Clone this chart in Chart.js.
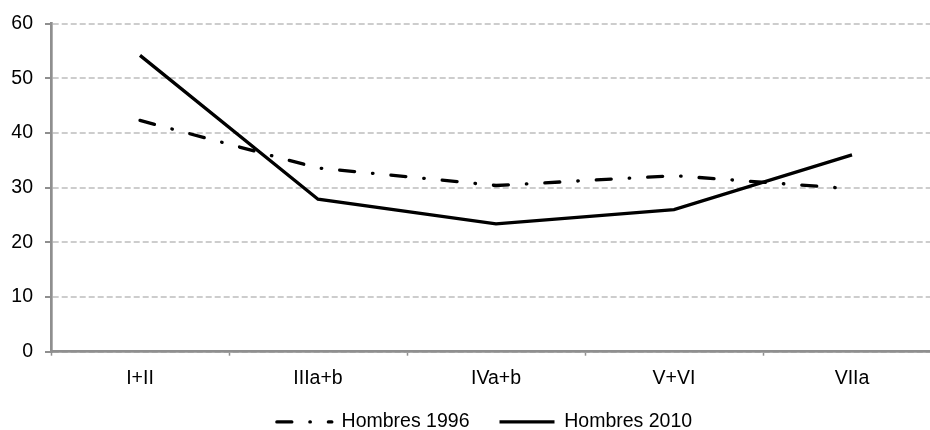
<!DOCTYPE html>
<html>
<head>
<meta charset="utf-8">
<script src="https://cdn.jsdelivr.net/npm/chart.js@4"></script>
<style>
  html, body { margin: 0; padding: 0; overflow: hidden; background: #fff; }
  canvas { display: block; }
</style>
</head>
<body>
<canvas id="c" width="941" height="430" style="width:941px;height:430px"></canvas>
<script>
const categories = ["I+II", "IIIa+b", "IVa+b", "V+VI", "VIIa"];
const hombres1996 = [42.3, 33.6, 30.4, 32.2, 29.8];
const hombres2010 = [54.2, 27.9, 23.4, 26.0, 36.0];
const yTicks = [0, 10, 20, 30, 40, 50, 60];

const FONT = "'Liberation Sans', Arial, Helvetica, sans-serif";
const AXIS = '#8f8f8f';

const shiftLegend = {
  id: 'shiftLegend',
  afterLayout(chart) {
    const lg = chart.legend;
    if (lg) {
      lg.left += 14; lg.right += 14;
      lg.top -= 11.5; lg.bottom -= 11.5;
    }
  }
};

new Chart(document.getElementById('c'), {
  type: 'line',
  data: {
    labels: categories,
    datasets: [
      {
        label: 'Hombres 1996',
        data: hombres1996,
        borderColor: '#000',
        backgroundColor: '#000',
        borderWidth: 3.3,
        borderDash: [15, 18, 0.5, 18],
        borderCapStyle: 'round',
        pointRadius: 0,
        tension: 0,
        fill: false
      },
      {
        label: 'Hombres 2010',
        data: hombres2010,
        borderColor: '#000',
        backgroundColor: '#000',
        borderWidth: 3.3,
        borderCapStyle: 'butt',
        pointRadius: 0,
        tension: 0,
        fill: false
      }
    ]
  },
  plugins: [shiftLegend],
  options: {
    responsive: false,
    animation: false,
    devicePixelRatio: 1,
    layout: { padding: { top: 20, left: 0, right: 0, bottom: -23.2 } },
    plugins: {
      tooltip: { enabled: false },
      legend: {
        position: 'bottom',
        labels: {
          usePointStyle: true,
          pointStyle: 'line',
          pointStyleWidth: 55,
          padding: 30,
          color: '#000',
          font: { family: FONT, size: 19.5 },
          generateLabels: (chart) => chart.data.datasets.map((ds, i) => ({
            text: ds.label,
            datasetIndex: i,
            fillStyle: ds.borderColor,
            strokeStyle: ds.borderColor,
            fontColor: '#000',
            lineWidth: ds.borderWidth,
            lineDash: ds.borderDash || [],
            lineCap: ds.borderCapStyle,
            pointStyle: 'line',
            hidden: false
          }))
        }
      }
    },
    scales: {
      x: {
        offset: true,
        afterFit: (s) => { s.height = 42; },
        grid: {
          display: true,
          drawOnChartArea: false,
          offset: true,
          tickLength: 4,
          tickColor: AXIS,
          tickWidth: 1.5
        },
        border: { color: AXIS, width: 2.7 },
        ticks: { color: '#000', padding: 11, font: { family: FONT, size: 19.5 }, maxRotation: 0 }
      },
      y: {
        min: 0,
        max: 60,
        afterFit: (s) => { s.width = 51; },
        afterBuildTicks: (s) => { s.ticks = yTicks.map(v => ({ value: v })); },
        grid: {
          color: '#cdcdcd',
          lineWidth: 2,
          tickColor: AXIS,
          tickLength: 6,
          tickWidth: 2,
          tickBorderDash: []
        },
        border: { color: AXIS, width: 2.7, dash: [6, 3] },
        ticks: { color: '#000', padding: 12, font: { family: FONT, size: 19.5 } }
      }
    }
  }
});
</script>
</body>
</html>
